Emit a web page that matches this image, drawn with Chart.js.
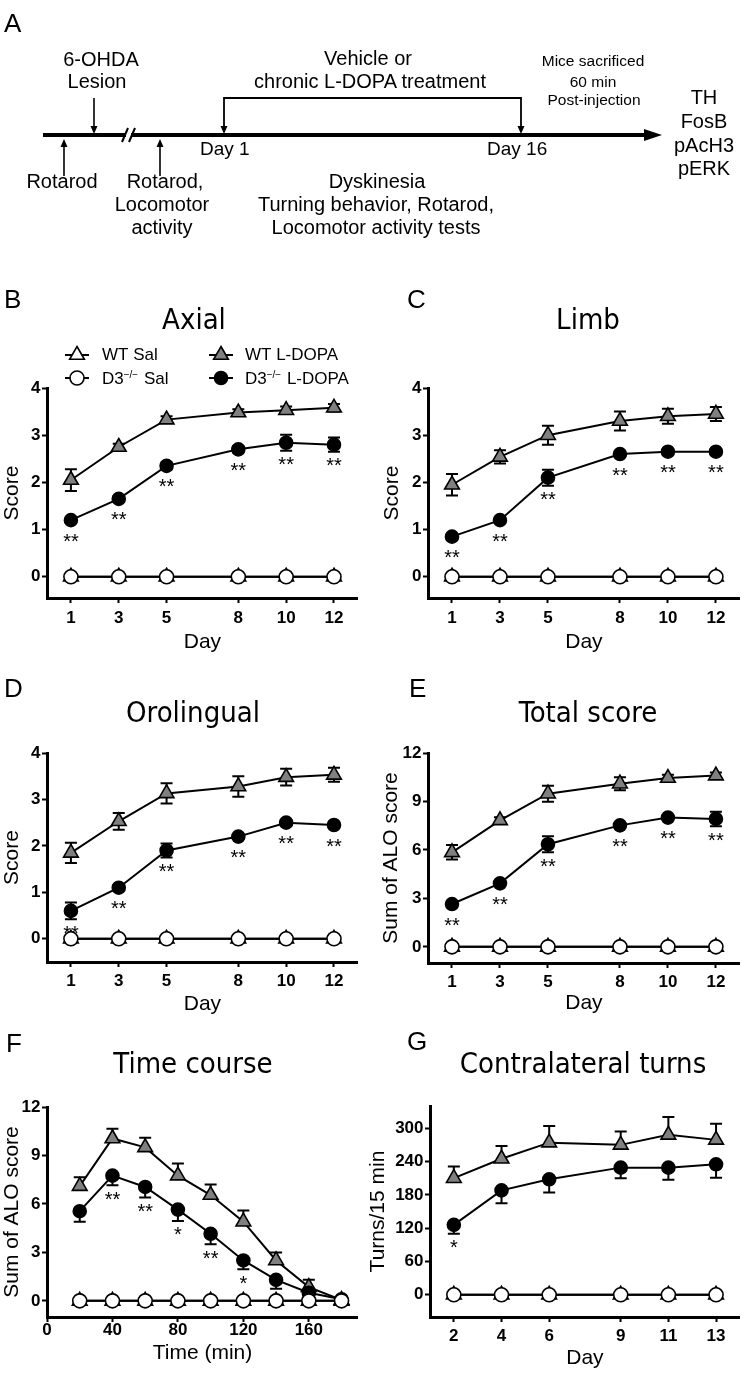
<!DOCTYPE html>
<html>
<head>
<meta charset="utf-8">
<script src="https://cdn.jsdelivr.net/npm/chart.js@4.4.1/dist/chart.umd.min.js"></script>
<style>
  html, body { margin: 0; padding: 0; background: #fff; }
  #page { position: relative; width: 750px; height: 1374px; overflow: hidden; }
  #page canvas { position: absolute; }
  #page svg { position: absolute; left: 0; top: 0; pointer-events: none; }
  .ttl { font-family: "DejaVu Sans Condensed", "DejaVu Sans", sans-serif; font-stretch: condensed; font-size: 29px; }
</style>
</head>
<body>
<div id="page">
<svg width="750" height="1374" viewBox="0 0 750 1374">
  <!-- panel A: timeline -->
  <g font-family="'Liberation Sans', Arial, sans-serif" fill="#000">
    <text x="4" y="32" font-size="26">A</text>
    <g font-size="20" text-anchor="middle">
      <text x="101" y="66">6-OHDA</text>
      <text x="97" y="88">Lesion</text>
      <text x="368" y="65">Vehicle or</text>
      <text x="370" y="88">chronic L-DOPA treatment</text>
      <text x="704" y="104">TH</text>
      <text x="704" y="128">FosB</text>
      <text x="704" y="152">pAcH3</text>
      <text x="704" y="175">pERK</text>
      <text x="62" y="188">Rotarod</text>
      <text x="165" y="188">Rotarod,</text>
      <text x="162" y="211">Locomotor</text>
      <text x="162" y="234">activity</text>
      <text x="377" y="188">Dyskinesia</text>
      <text x="376" y="211">Turning behavior, Rotarod,</text>
      <text x="376" y="234">Locomotor activity tests</text>
    </g>
    <g font-size="19">
      <text x="200" y="155">Day 1</text>
      <text x="487" y="155">Day 16</text>
    </g>
    <g font-size="15.5" text-anchor="middle">
      <text x="593" y="66">Mice sacrificed</text>
      <text x="593" y="87">60 min</text>
      <text x="594" y="105">Post-injection</text>
    </g>
  </g>
  <g stroke="#000" fill="none">
    <line x1="43" y1="135" x2="126" y2="135" stroke-width="4"/>
    <line x1="131" y1="135" x2="648" y2="135" stroke-width="4"/>
    <line x1="122" y1="142" x2="128" y2="128" stroke-width="2"/>
    <line x1="129" y1="142" x2="135" y2="128" stroke-width="2"/>
    <line x1="94" y1="98" x2="94" y2="127" stroke-width="1.6"/>
    <line x1="64" y1="176" x2="64" y2="146" stroke-width="1.6"/>
    <line x1="160" y1="176" x2="160" y2="146" stroke-width="1.6"/>
    <polyline points="224,127 224,98 521,98 521,127" stroke-width="1.8"/>
  </g>
  <g fill="#000">
    <polygon points="644,129 662,135 644,141"/>
    <polygon points="90.5,126 97.5,126 94,134"/>
    <polygon points="60.5,147 67.5,147 64,139"/>
    <polygon points="156.5,147 163.5,147 160,139"/>
    <polygon points="220.5,126 227.5,126 224,134"/>
    <polygon points="517.5,126 524.5,126 521,134"/>
  </g>
  <!-- panel letters -->
  <g font-family="'Liberation Sans', Arial, sans-serif" font-size="26" fill="#000">
    <text x="4" y="308">B</text>
    <text x="407" y="308">C</text>
    <text x="4" y="697">D</text>
    <text x="409" y="697">E</text>
    <text x="6" y="1052">F</text>
    <text x="407" y="1050">G</text>
  </g>
  <!-- panel titles -->
  <g class="ttl" fill="#000" text-anchor="middle">
    <text x="194" y="329">Axial</text>
    <text x="588" y="329">Limb</text>
    <text x="193" y="722">Orolingual</text>
    <text x="588" y="722">Total score</text>
    <text x="193" y="1073">Time course</text>
    <text x="583" y="1073">Contralateral turns</text>
  </g>
</svg>
</div>
<script>
const FONT = "'Liberation Sans', Arial, sans-serif";

// x values and tick labels
const days = [1, 3, 5, 8, 10, 12];
const dayTicks = [1, 3, 5, 8, 10, 12];
const scoreTicks = [0, 1, 2, 3, 4];
const sumTicks = [0, 3, 6, 9, 12];
const minutes = [20, 40, 60, 80, 100, 120, 140, 160, 180];
const minuteTicks = [0, 40, 80, 120, 160];
const turnDays = [2, 4, 6, 9, 11, 13];
const turnTicks = [0, 60, 120, 180, 240, 300];

// B - Axial
const axialWtSal = [0, 0, 0, 0, 0, 0];
const axialD3Sal = [0, 0, 0, 0, 0, 0];
const axialWtL = [2.05, 2.75, 3.33, 3.48, 3.53, 3.58];
const axialWtLErr = [0.23, 0.07, 0.07, 0.07, 0.08, 0.08];
const axialD3L = [1.2, 1.65, 2.35, 2.7, 2.84, 2.8];
const axialD3LErr = [0.05, 0.06, 0.07, 0.07, 0.17, 0.15];
const axialStars = ["**", "**", "**", "**", "**", "**"];

// C - Limb
const limbWtSal = [0, 0, 0, 0, 0, 0];
const limbD3Sal = [0, 0, 0, 0, 0, 0];
const limbWtL = [1.95, 2.54, 3.0, 3.3, 3.4, 3.45];
const limbWtLErr = [0.23, 0.14, 0.2, 0.2, 0.16, 0.15];
const limbD3L = [0.85, 1.2, 2.1, 2.6, 2.65, 2.65];
const limbD3LErr = [0.05, 0.05, 0.17, 0.05, 0.05, 0.05];
const limbStars = ["**", "**", "**", "**", "**", "**"];

// D - Orolingual
const oroWtSal = [0, 0, 0, 0, 0, 0];
const oroD3Sal = [0, 0, 0, 0, 0, 0];
const oroWtL = [1.85, 2.53, 3.13, 3.28, 3.48, 3.53];
const oroWtLErr = [0.22, 0.18, 0.22, 0.22, 0.18, 0.15];
const oroD3L = [0.6, 1.1, 1.9, 2.2, 2.5, 2.45];
const oroD3LErr = [0.18, 0.05, 0.15, 0.05, 0.05, 0.05];
const oroStars = ["**", "**", "**", "**", "**", "**"];

// E - Total score
const totWtSal = [0, 0, 0, 0, 0, 0];
const totD3Sal = [0, 0, 0, 0, 0, 0];
const totWtL = [5.85, 7.83, 9.48, 10.1, 10.45, 10.6];
const totWtLErr = [0.45, 0.2, 0.5, 0.4, 0.2, 0.2];
const totD3L = [2.65, 3.93, 6.35, 7.52, 8.0, 7.92];
const totD3LErr = [0.1, 0.15, 0.5, 0.15, 0.15, 0.45];
const totStars = ["**", "**", "**", "**", "**", "**"];

// F - Time course
const timeWtSal = [0, 0, 0, 0, 0, 0, 0, 0, 0];
const timeD3Sal = [0, 0, 0, 0, 0, 0, 0, 0, 0];
const timeWtL = [7.1, 10.05, 9.5, 7.75, 6.55, 4.9, 2.5, 0.85, 0.05];
const timeWtLErr = [0.55, 0.6, 0.6, 0.75, 0.65, 0.7, 0.5, 0.45, 0];
const timeD3L = [5.55, 7.75, 7.05, 5.65, 4.15, 2.5, 1.3, 0.5, 0.1];
const timeD3LErr = [0.65, 0.6, 0.65, 0.7, 0.65, 0.55, 0.55, 0.2, 0];
const timeStars = ["", "**", "**", "*", "**", "*", "", "", ""];

// G - Contralateral turns
const turnWtSal = [0, 0, 0, 0, 0, 0];
const turnD3Sal = [0, 0, 0, 0, 0, 0];
const turnWtL = [210, 245, 274, 270, 288, 279];
const turnWtLErr = [21, 23, 30, 24, 32, 29];
const turnD3L = [126, 188, 208, 229, 229, 235];
const turnD3LErr = [16, 23, 24, 19, 22, 24];
const turnStars = ["*", "", "", "", "", ""];

// --- plugins ---

const errorBars = {
  id: "errorBars",
  beforeDatasetsDraw(chart) {
    const ctx = chart.ctx;
    const ys = chart.scales.y;
    ctx.save();
    ctx.strokeStyle = "#000";
    ctx.lineWidth = 2;
    chart.data.datasets.forEach((ds, i) => {
      if (!ds.errors) return;
      chart.getDatasetMeta(i).data.forEach((pt, j) => {
        const e = ds.errors[j];
        if (!e) return;
        const v = ds.data[j].y;
        const top = ds.errDir === "down" ? pt.y : ys.getPixelForValue(v + e);
        const bot = ds.errDir === "up" ? pt.y : ys.getPixelForValue(v - e);
        ctx.beginPath();
        ctx.moveTo(pt.x, top);
        ctx.lineTo(pt.x, bot);
        if (ds.errDir !== "down") { ctx.moveTo(pt.x - 6, top); ctx.lineTo(pt.x + 6, top); }
        if (ds.errDir !== "up") { ctx.moveTo(pt.x - 6, bot); ctx.lineTo(pt.x + 6, bot); }
        ctx.stroke();
      });
    });
    ctx.restore();
  },
};

const starMarks = {
  id: "starMarks",
  afterDatasetsDraw(chart) {
    const ctx = chart.ctx;
    const ys = chart.scales.y;
    ctx.save();
    ctx.fillStyle = "#000";
    ctx.font = "20px " + FONT;
    ctx.textAlign = "center";
    ctx.textBaseline = "alphabetic";
    chart.data.datasets.forEach((ds, i) => {
      if (!ds.stars) return;
      chart.getDatasetMeta(i).data.forEach((pt, j) => {
        const s = ds.stars[j];
        if (!s) return;
        const e = ds.errDir === "up" ? 0 : ds.errors[j] || 0;
        const low = Math.max(pt.y + 7, ys.getPixelForValue(ds.data[j].y - e));
        ctx.fillText(s, pt.x, low + 9 + 11.6);
      });
    });
    ctx.restore();
  },
};

function drawMarker(ctx, style, r, x, y) {
  ctx.beginPath();
  if (style === "triangle") {
    let a = 0;
    ctx.moveTo(x + Math.sin(a) * r, y - Math.cos(a) * r);
    a += 2 * Math.PI / 3;
    ctx.lineTo(x + Math.sin(a) * r, y - Math.cos(a) * r);
    a += 2 * Math.PI / 3;
    ctx.lineTo(x + Math.sin(a) * r, y - Math.cos(a) * r);
    ctx.closePath();
  } else {
    ctx.arc(x, y, r, 0, Math.PI * 2);
  }
  ctx.fill();
  ctx.stroke();
}

const legendBox = {
  id: "legendBox",
  afterDraw(chart, args, opts) {
    if (!opts.items) return;
    const ctx = chart.ctx;
    opts.items.forEach((it) => {
      const ds = chart.data.datasets[it.ds];
      ctx.save();
      ctx.strokeStyle = "#000";
      ctx.lineWidth = 2;
      ctx.beginPath();
      ctx.moveTo(it.x - 12, it.y);
      ctx.lineTo(it.x + 12, it.y);
      ctx.stroke();
      ctx.fillStyle = ds.pointBackgroundColor;
      ctx.lineWidth = ds.pointBorderWidth;
      drawMarker(ctx, ds.pointStyle, ds.pointRadius, it.x, it.y);
      ctx.fillStyle = "#000";
      ctx.textAlign = "left";
      ctx.textBaseline = "alphabetic";
      let tx = it.tx;
      it.parts.forEach(([txt, sup]) => {
        ctx.font = (sup ? "10px " : "17px ") + FONT;
        ctx.fillText(txt, tx, sup ? it.ty - 6 : it.ty);
        tx += ctx.measureText(txt).width + (sup ? 1 : 0);
      });
      ctx.restore();
    });
  },
};

// --- panels ---

function pts(xs, ys) {
  return xs.map((x, i) => ({ x: x, y: ys[i] }));
}

function makePanel(p) {
  const cv = document.createElement("canvas");
  cv.width = p.width;
  cv.height = p.height;
  cv.style.left = p.left + "px";
  cv.style.top = p.top + "px";
  cv.style.width = p.width + "px";
  cv.style.height = p.height + "px";
  document.getElementById("page").insertBefore(cv, document.querySelector("#page svg"));

  const common = { borderColor: "#000", borderWidth: 2, pointBorderColor: "#000", pointBorderWidth: 1.6, tension: 0, fill: false };
  const datasets = [
    { ...common, label: "D3 Sal", data: pts(p.xs, p.d3Sal), pointStyle: "circle", pointRadius: 7, pointBackgroundColor: "#fff" },
    { ...common, label: "D3 L-DOPA", data: pts(p.xs, p.d3L), pointStyle: "circle", pointRadius: 6.5, pointBackgroundColor: "#000",
      errors: p.d3LErr, errDir: p.split ? "down" : "both", stars: p.stars },
    { ...common, label: "WT L-DOPA", data: pts(p.xs, p.wtL), pointStyle: "triangle", pointRadius: 8.5, pointBackgroundColor: "#808080",
      errors: p.wtLErr, errDir: p.split ? "up" : "both" },
    { ...common, label: "WT Sal", data: pts(p.xs, p.wtSal), pointStyle: "triangle", pointRadius: 8.5, pointBackgroundColor: "#fff" },
  ];

  const tickGrid = { display: true, drawOnChartArea: false, drawTicks: true, tickLength: 5, tickWidth: 2, tickColor: "#000" };
  const border = { display: true, color: "#000", width: 3 };
  const tickFont = { family: FONT, size: 17, weight: "bold" };
  const titleFont = { family: FONT, size: 21, lineHeight: 1.2 };

  new Chart(cv.getContext("2d"), {
    type: "line",
    data: { datasets: datasets },
    options: {
      responsive: false,
      animation: false,
      devicePixelRatio: 1,
      layout: { padding: { top: p.padTop, right: p.padRight, left: 0, bottom: 0 } },
      plugins: {
        legend: { display: false },
        tooltip: { enabled: false },
        legendBox: { items: p.legend },
      },
      scales: {
        x: {
          type: "linear",
          min: p.xMin,
          max: p.xMax,
          afterBuildTicks: (s) => { s.ticks = p.xTicks.map((v) => ({ value: v })); },
          afterFit: (s) => { s.height = p.xh; },
          grid: tickGrid,
          border: border,
          ticks: { color: "#000", font: tickFont, padding: p.xTickPad, maxRotation: 0, autoSkip: false, callback: (v) => String(v) },
          title: { display: true, text: p.xTitle, color: "#000", font: titleFont, padding: { top: 0, bottom: p.xTitlePad } },
        },
        y: {
          type: "linear",
          min: p.yMin,
          max: p.yMax,
          afterBuildTicks: (s) => { s.ticks = p.yTicks.map((v) => ({ value: v })); },
          afterFit: (s) => { s.width = p.yw; },
          grid: tickGrid,
          border: border,
          ticks: { color: "#000", font: tickFont, padding: 1.5, autoSkip: false, callback: (v) => String(v) },
          title: { display: true, text: p.yTitle, color: "#000", font: titleFont, padding: { top: p.yTitlePad, bottom: 0 } },
        },
      },
    },
    plugins: [errorBars, starMarks, legendBox],
  });
}

const axialLegend = [
  { ds: 3, x: 77, y: 15, tx: 102, ty: 20, parts: [["WT Sal", false]] },
  { ds: 2, x: 221, y: 15, tx: 245, ty: 20, parts: [["WT L-DOPA", false]] },
  { ds: 0, x: 77, y: 38, tx: 102, ty: 44, parts: [["D3", false], ["\u2212/\u2212", true], [" Sal", false]] },
  { ds: 1, x: 221, y: 38, tx: 245, ty: 44, parts: [["D3", false], ["\u2212/\u2212", true], [" L-DOPA", false]] },
];

makePanel({ left: 0, top: 340, width: 368, height: 320, padTop: 48, padRight: 5, yw: 47, xh: 62,
  xMin: 0, xMax: 13, xTicks: dayTicks, xTitle: "Day", xTickPad: 5, xTitlePad: 5.4,
  yMin: -0.45, yMax: 4, yTicks: scoreTicks, yTitle: "Score", yTitlePad: 0,
  xs: days, wtSal: axialWtSal, d3Sal: axialD3Sal, wtL: axialWtL, wtLErr: axialWtLErr,
  d3L: axialD3L, d3LErr: axialD3LErr, stars: axialStars, split: false, legend: axialLegend });

makePanel({ left: 360, top: 350, width: 390, height: 310, padTop: 38, padRight: 5, yw: 68, xh: 62,
  xMin: 0, xMax: 13, xTicks: dayTicks, xTitle: "Day", xTickPad: 5, xTitlePad: 5.4,
  yMin: -0.45, yMax: 4, yTicks: scoreTicks, yTitle: "Score", yTitlePad: 20,
  xs: days, wtSal: limbWtSal, d3Sal: limbD3Sal, wtL: limbWtL, wtLErr: limbWtLErr,
  d3L: limbD3L, d3LErr: limbD3LErr, stars: limbStars, split: false });

makePanel({ left: 0, top: 730, width: 368, height: 294, padTop: 23, padRight: 5, yw: 47, xh: 62,
  xMin: 0, xMax: 13, xTicks: dayTicks, xTitle: "Day", xTickPad: 4, xTitlePad: 6.9,
  yMin: -0.5, yMax: 4, yTicks: scoreTicks, yTitle: "Score", yTitlePad: 0,
  xs: days, wtSal: oroWtSal, d3Sal: oroD3Sal, wtL: oroWtL, wtLErr: oroWtLErr,
  d3L: oroD3L, d3LErr: oroD3LErr, stars: oroStars, split: false });

makePanel({ left: 360, top: 730, width: 390, height: 294, padTop: 23, padRight: 5, yw: 68, xh: 61,
  xMin: 0, xMax: 13, xTicks: dayTicks, xTitle: "Day", xTickPad: 4.4, xTitlePad: 7.9,
  yMin: -1, yMax: 12, yTicks: sumTicks, yTitle: "Sum of ALO score", yTitlePad: 19,
  xs: days, wtSal: totWtSal, d3Sal: totD3Sal, wtL: totWtL, wtLErr: totWtLErr,
  d3L: totD3L, d3LErr: totD3LErr, stars: totStars, split: false });

makePanel({ left: 0, top: 1085, width: 368, height: 289, padTop: 22, padRight: 6, yw: 47, xh: 57,
  xMin: 0, xMax: 190, xTicks: minuteTicks, xTitle: "Time (min)", xTickPad: -2, xTitlePad: 8.4,
  yMin: -1, yMax: 12, yTicks: sumTicks, yTitle: "Sum of ALO score", yTitlePad: 0,
  xs: minutes, wtSal: timeWtSal, d3Sal: timeD3Sal, wtL: timeWtL, wtLErr: timeWtLErr,
  d3L: timeD3L, d3LErr: timeD3LErr, stars: timeStars, split: true });

makePanel({ left: 360, top: 1085, width: 390, height: 289, padTop: 21, padRight: 5, yw: 70, xh: 57,
  xMin: 1, xMax: 14, xTicks: turnDays, xTitle: "Day", xTickPad: 4, xTitlePad: 3.4,
  yMin: -40, yMax: 340, yTicks: turnTicks, yTitle: "Turns/15 min", yTitlePad: 5.4,
  xs: turnDays, wtSal: turnWtSal, d3Sal: turnD3Sal, wtL: turnWtL, wtLErr: turnWtLErr,
  d3L: turnD3L, d3LErr: turnD3LErr, stars: turnStars, split: true });
</script>
</body>
</html>
